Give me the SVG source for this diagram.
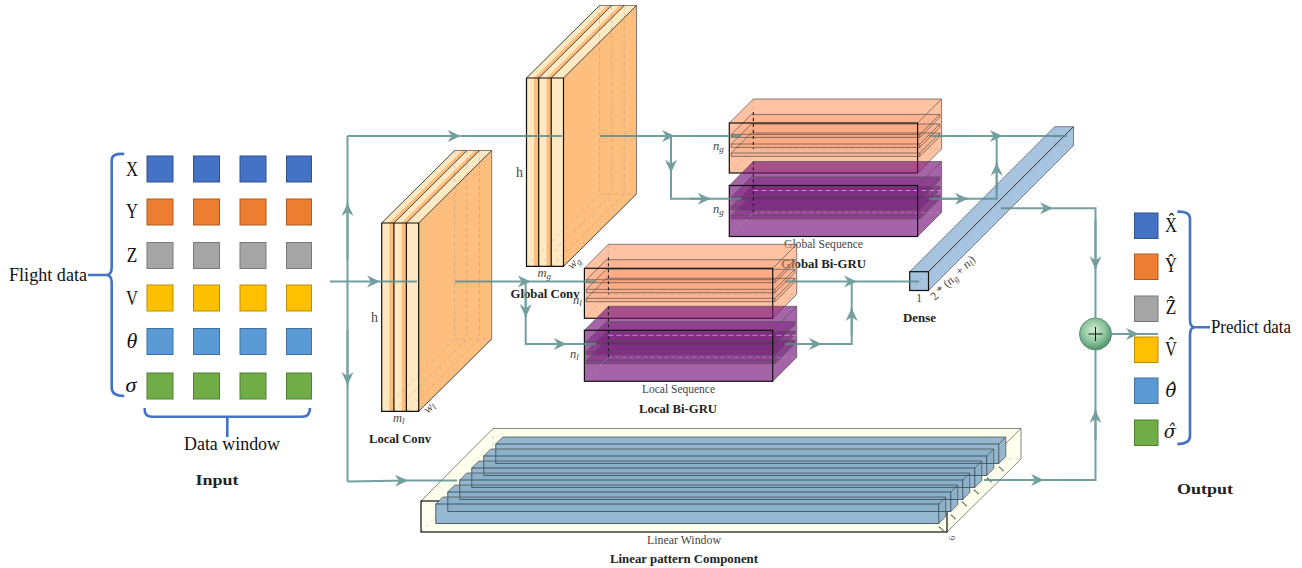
<svg xmlns="http://www.w3.org/2000/svg" xmlns:xlink="http://www.w3.org/1999/xlink" width="1302" height="568" viewBox="0 0 1302 568">
<style>
text{font-family:"Liberation Serif","DejaVu Serif",serif;fill:#222}
.big{font-size:18px;fill:#111}
.sym{font-size:22px;fill:#111;text-anchor:middle}
.hat{font-family:"DejaVu Serif",serif;font-size:18px;fill:#111;text-anchor:middle;font-style:italic}
.it{font-style:italic}
.cap{font-size:11.5px;fill:#444;text-anchor:middle}
.bold{font-size:12px;font-weight:bold;fill:#222;text-anchor:middle}
.title{font-size:15px;font-weight:bold;fill:#222;text-anchor:middle}
.small{font-size:12.5px;fill:#444;font-style:italic}
.h{font-size:14px;fill:#444}
.sub{font-size:9px}
.blue{fill:#4472C4;stroke:#2F528F}.or{fill:#ED7D31;stroke:#AE5A21}.gr{fill:#A5A5A5;stroke:#787878}
.ye{fill:#FFC000;stroke:#BC8C00}.lb{fill:#5B9BD5;stroke:#41719C}.gn{fill:#70AD47;stroke:#507E32}
.brace{fill:none;stroke:#4472C4;stroke-width:2.6;stroke-linejoin:round}
.edge{fill:none;stroke:#111;stroke-width:1.2}
.edge2{fill:none;stroke:#333;stroke-width:.9}
.back{fill:none;stroke:#555;stroke-width:.9;stroke-opacity:.8}
.dash{fill:none;stroke:#888;stroke-width:.6;stroke-dasharray:4 3;stroke-opacity:.55}
.dashk{fill:none;stroke:#111;stroke-width:1;stroke-dasharray:3 3}
.lc{fill:#FFE9C2}.oc{fill:#FEBE7E}
.conn{fill:none;stroke:#5C8F8F;stroke-width:2}
.a{marker-end:url(#arr)}
</style>
<defs>
<marker id="arr" markerUnits="userSpaceOnUse" markerWidth="15" markerHeight="14" refX="14" refY="7" orient="auto" viewBox="0 0 15 14">
<path d="M1,1 L14,7 L1,13 L5,7z" fill="#5C8F8F"/>
</marker>
<radialGradient id="ball" cx="45%" cy="40%" r="60%"><stop offset="0" stop-color="#D5F0D5"/><stop offset=".6" stop-color="#8CC49A"/><stop offset="1" stop-color="#4F8F6B"/></radialGradient>
<g id="conv">
<polygon class="oc" points="37,0 110,-72.5 110,116 37,188.4"/>
<polygon class="oc" points="0,0 73,-72.5 110,-72.5 37,0"/>
<polygon class="lc" points="0,0 73,-72.5 80.5,-72.5 7.5,0"/>
<polygon class="lc" points="12.2,0 85.2,-72.5 93,-72.5 20,0"/>
<polygon class="lc" points="24.7,0 97.7,-72.5 110,-72.5 37,0"/>
<rect class="oc" x="0" y="0" width="37" height="188.4"/>
<rect class="lc" x="0" y="0" width="7.5" height="188.4"/>
<rect class="lc" x="12.2" y="0" width="7.8" height="188.4"/>
<rect class="lc" x="24.7" y="0" width="12.3" height="188.4"/>
<path class="dash" d="M73,-72.5V116M85.2,-72.5V116M97.7,-72.5V116M73,116H110M0,188.4L73,116M12.2,188.4L85.2,116M24.7,188.4L97.7,116"/>
<path class="back" d="M73,-72.5H110V116"/>
<path class="edge2" d="M0,0L73,-72.5M12.2,0L85.2,-72.5M24.7,0L97.7,-72.5M37,0L110,-72.5M37,188.4L110,116"/>
<path class="edge" d="M0,0H37V188.4H0zM12.2,0V188.4M24.7,0V188.4"/>
</g>
<g id="sheets" class="back">
<path d="M2,11.4H190.5V14.4H2zM2,11.4L22,-8.6H210.5L190.5,11.4M190.5,14.4L210.5,-5.6V-8.6"/>
<path d="M2,21H190.5V24.4H2zM2,21L22,1H210.5L190.5,21M190.5,24.4L210.5,4.4V1"/>
<path d="M2,30H190.5V33.4H2zM2,30L22,10H210.5L190.5,30M190.5,33.4L210.5,13.4V10"/>
</g>
<g id="gru-o">
<polygon points="0,0 24,-24 212.3,-24 212.3,26 188.3,50 0,50" fill="#FF9966" fill-opacity=".6"/>
<path d="M2,11.4L22,-8.6H210.5V-5.6L190.5,14.4H2z" fill="#FF8855" fill-opacity=".22"/>
<path d="M2,21L22,1H210.5V4.4L190.5,24.4H2z" fill="#FF8855" fill-opacity=".22"/>
<path d="M2,30L22,10H210.5V13.4L190.5,33.4H2z" fill="#FF8855" fill-opacity=".22"/>
<use xlink:href="#sheets" href="#sheets"/>
<path class="dash" d="M24,-24V26H212.3M0,50L24,26M24,1H212"/>
<path class="dashk" d="M24,-11V26"/>
<path class="back" d="M0,0L24,-24H212.3V26L188.3,50M188.3,0L212.3,-24"/>
<rect class="edge" x="0" y="0" width="188.3" height="50"/>
</g>
<g id="gru-p">
<polygon points="0,0 24,-24 212.3,-24 212.3,27 188.3,51 0,51" fill="#76117A" fill-opacity=".65"/>
<path d="M2,11.4L22,-8.6H210.5V-5.6L190.5,14.4H2z" fill="#76117A" fill-opacity=".45"/>
<path d="M2,21L22,1H210.5V4.4L190.5,24.4H2z" fill="#76117A" fill-opacity=".45"/>
<path d="M2,30L22,10H210.5V13.4L190.5,33.4H2z" fill="#76117A" fill-opacity=".45"/>
<use xlink:href="#sheets" href="#sheets"/>
<path d="M24,5H212" fill="none" stroke="#CFA8D0" stroke-width=".8" stroke-dasharray="5 3"/>
<path d="M24,27H212.3M0,51L24,27" fill="none" stroke="#B58CB6" stroke-width=".7" stroke-dasharray="4 3"/>
<path class="dashk" d="M24,-24V27"/>
<path class="back" d="M0,0L24,-24H212.3V27L188.3,51M188.3,0L212.3,-24"/>
<rect class="edge" x="0" y="0" width="188.3" height="51"/>
</g>
<polygon id="barbase" points="0,0 7,-7 510,-7 510,12.4 503,19.4 0,19.4" fill="#A3C1D5"/>
<g id="bar">
<polygon points="0,0 7,-7 510,-7 510,12.4 503,19.4 0,19.4" fill="#4F86AA" fill-opacity=".15"/>
<path d="M0,0L7,-7H510V12.4L503,19.4M503,0L510,-7" fill="none" stroke="#555" stroke-width=".8"/>
<rect x="0" y="0" width="503" height="19.4" fill="none" stroke="#2F4050" stroke-width=".8"/>
</g>
</defs>

<g id="input">
<g id="input-grid">
<rect class="blue" x="147" y="156" width="26" height="26"/><rect class="blue" x="193.5" y="156" width="26" height="26"/><rect class="blue" x="240" y="156" width="26" height="26"/><rect class="blue" x="286.5" y="156" width="25" height="26"/>
<rect class="or" x="147" y="199" width="26" height="26"/><rect class="or" x="193.5" y="199" width="26" height="26"/><rect class="or" x="240" y="199" width="26" height="26"/><rect class="or" x="286.5" y="199" width="25" height="26"/>
<rect class="gr" x="147" y="242.5" width="26" height="26"/><rect class="gr" x="193.5" y="242.5" width="26" height="26"/><rect class="gr" x="240" y="242.5" width="26" height="26"/><rect class="gr" x="286.5" y="242.5" width="25" height="26"/>
<rect class="ye" x="147" y="285" width="26" height="26"/><rect class="ye" x="193.5" y="285" width="26" height="26"/><rect class="ye" x="240" y="285" width="26" height="26"/><rect class="ye" x="286.5" y="285" width="25" height="26"/>
<rect class="lb" x="147" y="328.5" width="26" height="26"/><rect class="lb" x="193.5" y="328.5" width="26" height="26"/><rect class="lb" x="240" y="328.5" width="26" height="26"/><rect class="lb" x="286.5" y="328.5" width="25" height="26"/>
<rect class="gn" x="147" y="373" width="26" height="26"/><rect class="gn" x="193.5" y="373" width="26" height="26"/><rect class="gn" x="240" y="373" width="26" height="26"/><rect class="gn" x="286.5" y="373" width="25" height="26"/>
</g>
<text class="sym" x="132" y="176" textLength="12" lengthAdjust="spacingAndGlyphs">X</text><text class="sym" x="132" y="218" textLength="12" lengthAdjust="spacingAndGlyphs">Y</text><text class="sym" x="132" y="262" textLength="10.5" lengthAdjust="spacingAndGlyphs">Z</text><text class="sym" x="132" y="305" textLength="12" lengthAdjust="spacingAndGlyphs">V</text>
<text class="sym it" x="132" y="348">θ</text><text class="sym it" x="131" y="392">σ</text>
<path class="brace" d="M124.3,154Q112,153 111.7,160V268Q111.5,275 106,275Q111.5,275 111.7,282V388Q112,396 124.3,396M88,275H106"/>
<path class="brace" d="M144.7,408Q144,416.7 152,416.7H302Q310,416.7 310,408M227.3,416.7V437"/>
<text class="big" x="9" y="281" textLength="78" lengthAdjust="spacingAndGlyphs">Flight data</text>
<text class="big" x="184" y="450" textLength="96" lengthAdjust="spacingAndGlyphs">Data window</text>
<text class="title" x="217" y="485" textLength="43" lengthAdjust="spacingAndGlyphs">Input</text>
</g>

<g id="global-conv">
<use xlink:href="#conv" href="#conv" transform="translate(526.5,78)"/>
<text class="h" x="516" y="177">h</text>
<text class="small" x="537.5" y="277">m<tspan class="sub" dy="2">g</tspan></text>
<text class="small" transform="translate(572,270) rotate(-45)">w<tspan class="sub" dy="2">g</tspan></text>
<text class="bold" x="545" y="298" textLength="69" lengthAdjust="spacingAndGlyphs">Global Conv</text>
</g>

<g id="local-conv">
<use xlink:href="#conv" href="#conv" transform="translate(381.7,223)"/>
<text class="h" x="371" y="322">h</text>
<text class="small" x="393" y="422">m<tspan class="sub" dy="2">l</tspan></text>
<text class="small" transform="translate(428,414) rotate(-45)">w<tspan class="sub" dy="2">l</tspan></text>
<text class="bold" x="400" y="443" textLength="62" lengthAdjust="spacingAndGlyphs">Local Conv</text>
</g>

<g id="global-gru">
<use xlink:href="#gru-o" href="#gru-o" transform="translate(729.3,123)"/>
<use xlink:href="#gru-p" href="#gru-p" transform="translate(729.3,185.5)"/>
<text class="small" x="713" y="150">n<tspan class="sub" dy="2">g</tspan></text>
<text class="small" x="713" y="213">n<tspan class="sub" dy="2">g</tspan></text>
<text class="cap" x="823.5" y="247.5" textLength="79" lengthAdjust="spacingAndGlyphs">Global Sequence</text>
<text class="bold" x="823.5" y="268" textLength="85" lengthAdjust="spacingAndGlyphs">Global Bi-GRU</text>
</g>

<g id="local-gru">
<use xlink:href="#gru-o" href="#gru-o" transform="translate(584.4,268.3)"/>
<use xlink:href="#gru-p" href="#gru-p" transform="translate(584.4,330.3)"/>
<text class="small" x="573" y="304">n<tspan class="sub" dy="2">l</tspan></text>
<text class="small" x="570" y="358">n<tspan class="sub" dy="2">l</tspan></text>
<text class="cap" x="678.5" y="393" textLength="73" lengthAdjust="spacingAndGlyphs">Local Sequence</text>
<text class="bold" x="678" y="413" textLength="78" lengthAdjust="spacingAndGlyphs">Local Bi-GRU</text>
</g>

<g id="dense">
<polygon points="909.7,271.7 1054.7,126.7 1073.5,126.7 1073.5,145.5 928.5,290.5 909.7,290.5" fill="#A6C3E0"/>
<path class="dash" d="M1054.7,126.7V145.5H1073.5M909.7,290.5L1054.7,145.5"/>
<path class="back" d="M909.7,271.7L1054.7,126.7H1073.5V145.5L928.5,290.5"/>
<path d="M928.5,271.7L1073.5,126.7" fill="none" stroke="#333" stroke-width="1"/>
<rect x="909.7" y="271.7" width="18.8" height="18.8" fill="none" stroke="#111" stroke-width="1.2"/>
<text class="cap" x="919" y="302">1</text>
<text class="small" transform="translate(935,301) rotate(-45)" style="font-size:12px;font-style:normal">2 * (<tspan font-style="italic">n</tspan><tspan class="sub" dy="2" font-style="italic">g</tspan><tspan dy="-2"> + </tspan><tspan font-style="italic">n</tspan><tspan class="sub" dy="2" font-style="italic">l</tspan><tspan dy="-2">)</tspan></text>
<text class="bold" x="919.5" y="322" textLength="33" lengthAdjust="spacingAndGlyphs">Dense</text>
</g>

<g id="linear">
<polygon points="421,501 493,428.5 1021,428.5 1021,459 947,532 421,532" fill="#FFFFEE"/>
<path class="dash" d="M493,428.5V459H1021M421,532L493,459"/>
<path class="back" d="M421,501L493,428.5H1021V459L947,532M947,501L1021,428.5"/>
<rect class="edge" x="421" y="501" width="526" height="31"/>
<use xlink:href="#barbase" href="#barbase" transform="translate(495.8,444)"/>
<use xlink:href="#barbase" href="#barbase" transform="translate(483.8,456)"/>
<use xlink:href="#barbase" href="#barbase" transform="translate(471.8,468)"/>
<use xlink:href="#barbase" href="#barbase" transform="translate(459.8,480)"/>
<use xlink:href="#barbase" href="#barbase" transform="translate(447.8,492)"/>
<use xlink:href="#barbase" href="#barbase" transform="translate(435.8,504)"/>
<use xlink:href="#bar" href="#bar" transform="translate(495.8,444)"/>
<use xlink:href="#bar" href="#bar" transform="translate(483.8,456)"/>
<use xlink:href="#bar" href="#bar" transform="translate(471.8,468)"/>
<use xlink:href="#bar" href="#bar" transform="translate(459.8,480)"/>
<use xlink:href="#bar" href="#bar" transform="translate(447.8,492)"/>
<use xlink:href="#bar" href="#bar" transform="translate(435.8,504)"/>
<text class="cap" style="font-size:9px" transform="translate(943,531) rotate(-45)">1</text>
<text class="cap" style="font-size:9px" transform="translate(955,519) rotate(-45)">1</text>
<text class="cap" style="font-size:9px" transform="translate(966,506) rotate(-45)">1</text>
<text class="cap" style="font-size:9px" transform="translate(978,494) rotate(-45)">1</text>
<text class="cap" style="font-size:9px" transform="translate(991,482) rotate(-45)">1</text>
<text class="cap" style="font-size:9px" transform="translate(1003,471) rotate(-45)">1</text>
<text class="cap" style="font-size:9px" transform="translate(955,538) rotate(-90)">6</text>
<text class="cap" x="684" y="544" textLength="74" lengthAdjust="spacingAndGlyphs">Linear Window</text>
<text class="bold" x="684" y="563" textLength="148" lengthAdjust="spacingAndGlyphs">Linear pattern Component</text>
</g>

<g id="output">
<rect class="blue" x="1134.5" y="213" width="23.5" height="25.5"/>
<rect class="or" x="1134.5" y="254" width="23.5" height="25.5"/>
<rect class="gr" x="1134.5" y="296" width="23.5" height="25.5"/>
<rect class="ye" x="1134.5" y="337" width="23.5" height="25.5"/>
<rect class="lb" x="1134.5" y="378" width="23.5" height="25.5"/>
<rect class="gn" x="1134.5" y="420" width="23.5" height="25.5"/>
<text class="sym" x="1171" y="232" textLength="12" lengthAdjust="spacingAndGlyphs">X̂</text><text class="sym" x="1171" y="272" textLength="12" lengthAdjust="spacingAndGlyphs">Ŷ</text><text class="sym" x="1171" y="314" textLength="10.5" lengthAdjust="spacingAndGlyphs">Ẑ</text><text class="sym" x="1171" y="356" textLength="12" lengthAdjust="spacingAndGlyphs">V̂</text>
<text class="hat" x="1171" y="397">θ̂</text><text class="hat" x="1170" y="438">σ̂</text>
<path class="brace" d="M1177.3,211.7Q1190,211 1190,219V320Q1190,327.3 1195,327.3Q1190,327.3 1190,335V436Q1190,444 1177.3,444M1195,327.3H1210"/>
<text class="big" x="1211" y="333" textLength="80" lengthAdjust="spacingAndGlyphs">Predict data</text>
<text class="title" x="1205" y="494" textLength="56" lengthAdjust="spacingAndGlyphs">Output</text>
</g>

<g id="connectors" opacity=".85">
<path class="conn a" d="M330,281.5H380"/><path class="conn" d="M380,281.5H417"/>
<path class="conn" d="M347.5,136V481.5"/>
<path class="conn a" d="M347.5,260V203"/><path class="conn a" d="M347.5,330V385"/>
<path class="conn a" d="M347.5,136H460.7"/><path class="conn" d="M460.7,136H562"/>
<path class="conn a" d="M347.5,481.5L408,480.5"/><path class="conn" d="M408,480.5H457"/>
<path class="conn a" d="M600,136H675"/><path class="conn" d="M675,136H741"/>
<path class="conn" d="M671,136V198.7H741"/><path class="conn a" d="M671,140V172.7"/><path class="conn a" d="M690,198.7H710.7"/>
<path class="conn a" d="M929,136H1002.7"/><path class="conn" d="M1002.7,136H1067"/>
<path class="conn" d="M929,198.7H996.7V136"/><path class="conn a" d="M940,198.7H968"/><path class="conn a" d="M996.7,190V162.7"/>
<path class="conn a" d="M1001,208.3H1053"/><path class="conn" d="M1053,208.3H1095.5V318"/><path class="conn a" d="M1095.5,220V269.3"/>
<path class="conn a" d="M455,281.5H530.7"/><path class="conn" d="M530.7,281.5H596"/>
<path class="conn" d="M525.7,281.5V344H596"/><path class="conn a" d="M525.7,290V317.3"/><path class="conn a" d="M540,344H566.7"/>
<path class="conn a" d="M785,281.5H857"/><path class="conn" d="M857,281.5H919"/>
<path class="conn" d="M785,344H851.7V281.5"/><path class="conn a" d="M800,344H822"/><path class="conn a" d="M851.7,335V308"/>
<path class="conn a" d="M984,480H1044"/><path class="conn" d="M1044,480H1095.5V350"/><path class="conn a" d="M1095.5,440V410"/>
<path class="conn a" d="M1112,334H1139"/><path class="conn" d="M1139,334H1158"/>
</g>

<g id="sum">
<circle cx="1095.5" cy="334" r="16" fill="url(#ball)" stroke="#5F8F7F" stroke-width="1"/>
<path d="M1088.5,334H1102.5M1095.5,327V341" stroke="#111" stroke-width="1" fill="none"/>
</g>
</svg>
